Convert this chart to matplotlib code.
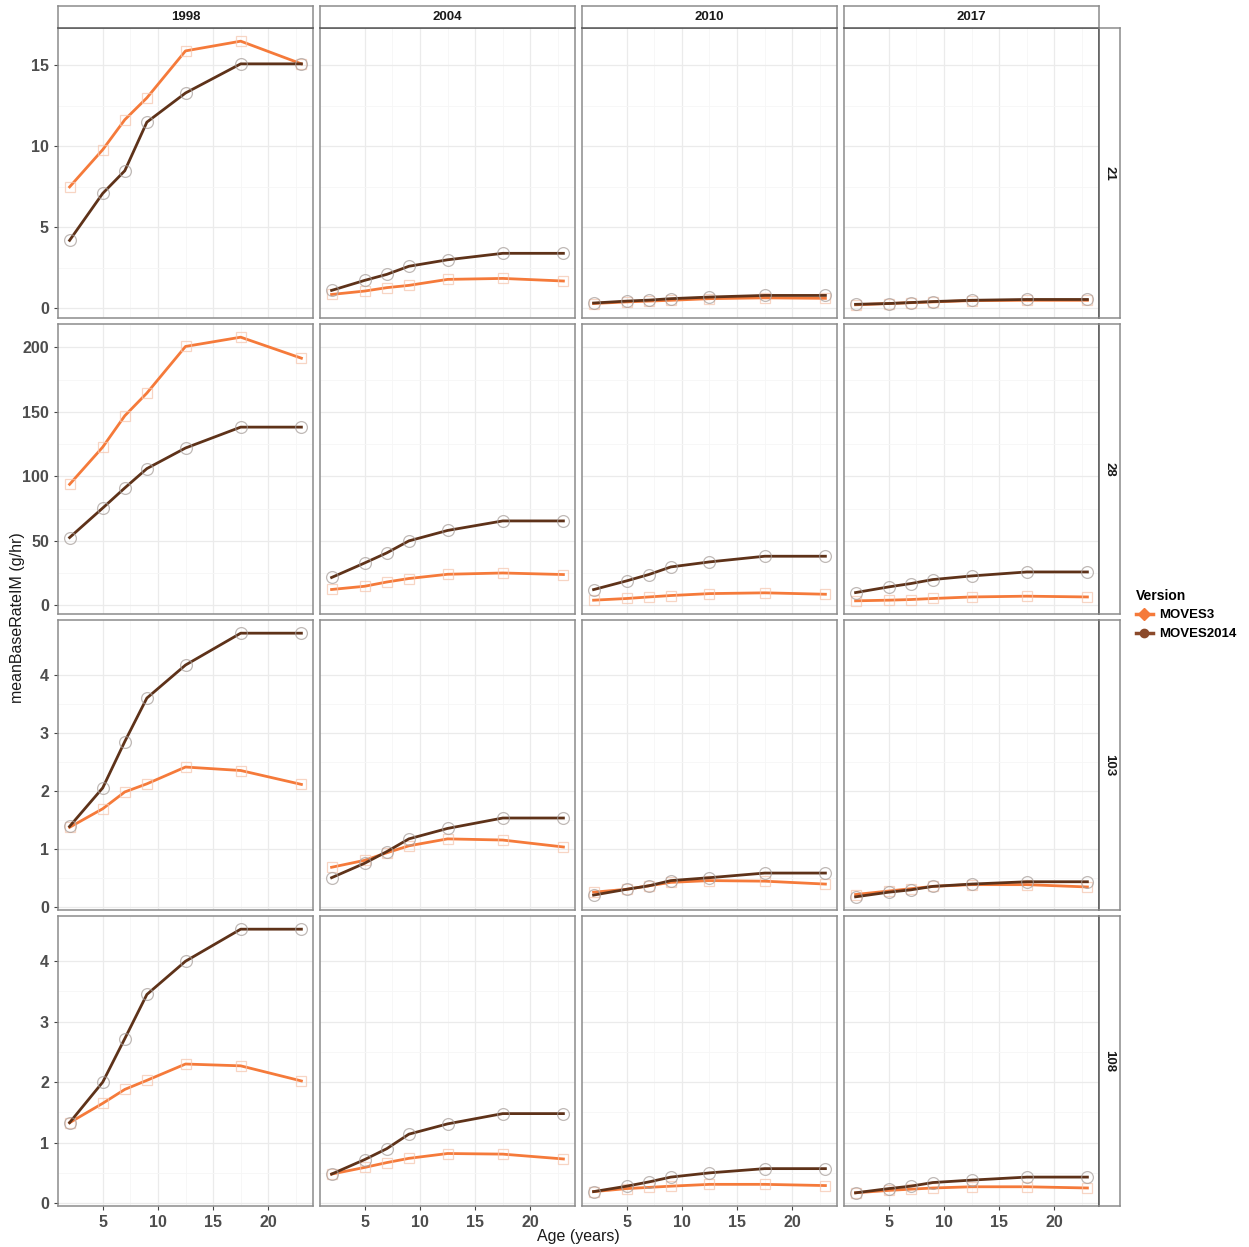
import matplotlib
matplotlib.use("Agg")
import matplotlib.pyplot as plt
from matplotlib.lines import Line2D

plt.rcParams['font.family'] = ['Liberation Sans', 'DejaVu Sans']

ages = [2, 5, 7, 9, 12.5, 17.5, 23]
years = ['1998', '2004', '2010', '2017']
pollutants = ['21', '28', '103', '108']
versions = ['MOVES3', 'MOVES2014']

p21_1998_m3 = [7.5, 9.8, 11.65, 13.0, 15.9, 16.5, 15.1]
p21_1998_m14 = [4.2, 7.1, 8.5, 11.5, 13.3, 15.1, 15.1]
p21_2004_m3 = [0.86, 1.07, 1.28, 1.42, 1.79, 1.85, 1.69]
p21_2004_m14 = [1.11, 1.73, 2.1, 2.6, 3.0, 3.4, 3.4]
p21_2010_m3 = [0.3, 0.4, 0.45, 0.5, 0.6, 0.65, 0.62]
p21_2010_m14 = [0.33, 0.45, 0.51, 0.6, 0.7, 0.8, 0.8]
p21_2017_m3 = [0.22, 0.3, 0.35, 0.4, 0.48, 0.5, 0.5]
p21_2017_m14 = [0.25, 0.3, 0.36, 0.42, 0.5, 0.55, 0.55]

p28_1998_m3 = [93.8, 122.7, 147.0, 164.6, 200.8, 208.0, 191.7]
p28_1998_m14 = [52.5, 75.4, 91.0, 106.0, 122.0, 138.2, 138.2]
p28_2004_m3 = [12.2, 14.7, 18.0, 20.7, 24.0, 25.0, 23.8]
p28_2004_m14 = [21.5, 32.8, 40.6, 49.9, 58.0, 65.4, 65.4]
p28_2010_m3 = [3.9, 5.2, 6.4, 7.5, 9.0, 9.6, 8.5]
p28_2010_m14 = [12.1, 18.9, 23.8, 29.7, 33.6, 38.0, 38.0]
p28_2017_m3 = [3.4, 3.9, 4.4, 5.2, 6.4, 7.0, 6.4]
p28_2017_m14 = [9.8, 14.2, 16.8, 19.9, 22.7, 25.8, 25.8]

p103_1998_m3 = [1.37, 1.69, 1.98, 2.12, 2.41, 2.35, 2.11]
p103_1998_m14 = [1.385, 2.05, 2.85, 3.6, 4.17, 4.72, 4.72]
p103_2004_m3 = [0.68, 0.8, 0.93, 1.05, 1.17, 1.15, 1.03]
p103_2004_m14 = [0.5, 0.75, 0.95, 1.17, 1.35, 1.53, 1.53]
p103_2010_m3 = [0.25, 0.3, 0.36, 0.42, 0.45, 0.44, 0.39]
p103_2010_m14 = [0.2, 0.3, 0.36, 0.45, 0.5, 0.58, 0.58]
p103_2017_m3 = [0.21, 0.27, 0.31, 0.35, 0.38, 0.38, 0.34]
p103_2017_m14 = [0.17, 0.25, 0.29, 0.35, 0.39, 0.43, 0.43]

p108_1998_m3 = [1.33, 1.65, 1.88, 2.03, 2.3, 2.27, 2.02]
p108_1998_m14 = [1.33, 2.0, 2.72, 3.45, 4.0, 4.53, 4.53]
p108_2004_m3 = [0.48, 0.59, 0.67, 0.74, 0.82, 0.81, 0.73]
p108_2004_m14 = [0.48, 0.72, 0.9, 1.14, 1.31, 1.48, 1.48]
p108_2010_m3 = [0.19, 0.24, 0.26, 0.28, 0.31, 0.31, 0.29]
p108_2010_m14 = [0.19, 0.28, 0.35, 0.43, 0.5, 0.57, 0.57]
p108_2017_m3 = [0.17, 0.21, 0.23, 0.25, 0.27, 0.27, 0.25]
p108_2017_m14 = [0.17, 0.24, 0.28, 0.34, 0.38, 0.43, 0.43]

data = {
    '21': {'1998': (p21_1998_m3, p21_1998_m14), '2004': (p21_2004_m3, p21_2004_m14),
           '2010': (p21_2010_m3, p21_2010_m14), '2017': (p21_2017_m3, p21_2017_m14)},
    '28': {'1998': (p28_1998_m3, p28_1998_m14), '2004': (p28_2004_m3, p28_2004_m14),
           '2010': (p28_2010_m3, p28_2010_m14), '2017': (p28_2017_m3, p28_2017_m14)},
    '103': {'1998': (p103_1998_m3, p103_1998_m14), '2004': (p103_2004_m3, p103_2004_m14),
            '2010': (p103_2010_m3, p103_2010_m14), '2017': (p103_2017_m3, p103_2017_m14)},
    '108': {'1998': (p108_1998_m3, p108_1998_m14), '2004': (p108_2004_m3, p108_2004_m14),
            '2010': (p108_2010_m3, p108_2010_m14), '2017': (p108_2017_m3, p108_2017_m14)},
}

row_ticks = {'21': [0, 5, 10, 15], '28': [0, 50, 100, 150, 200],
             '103': [0, 1, 2, 3, 4], '108': [0, 1, 2, 3, 4]}
x_ticks = [5, 10, 15, 20]

c_m3 = '#F57A3A'
c_m14 = '#5E3219'
c_pt3 = '#F5C4AC'
c_pt14 = '#A59C98'
border = '#8C8C8C'
grid_c = '#EBEBEB'
tick_txt = '#4D4D4D'

W, H = 1249, 1247
fig = plt.figure(figsize=(W / 100, H / 100), dpi=100)
fig.patch.set_facecolor('white')

def fx(px):
    return px / W

def fy(py):
    return 1 - py / H

col_left = 58
col_w = 255
col_step = 262
row_top = 28
row_h = 290
row_step = 296
strip_h = 22
strip_w = 21

xmin, xmax = min(ages), max(ages)
xr = xmax - xmin
xlim = (xmin - 0.05 * xr, xmax + 0.05 * xr)

for i, pol in enumerate(pollutants):
    allv = []
    for y in years:
        allv += data[pol][y][0] + data[pol][y][1]
    lo, hi = min(allv), max(allv)
    ylim = (lo - 0.05 * (hi - lo), hi + 0.05 * (hi - lo))
    top = row_top + i * row_step
    for j, yr in enumerate(years):
        left = col_left + j * col_step
        ax = fig.add_axes([fx(left), fy(top + row_h), col_w / W, row_h / H])
        ax.set_xlim(*xlim)
        ax.set_ylim(*ylim)
        ax.set_xticks(x_ticks)
        ax.set_yticks(row_ticks[pol])
        ax.set_xticks([7.5, 12.5, 17.5, 22.5], minor=True)
        yt = row_ticks[pol]
        ax.set_yticks([(yt[k] + yt[k + 1]) / 2 for k in range(len(yt) - 1)], minor=True)
        ax.grid(True, which='major', color=grid_c, lw=0.9)
        ax.grid(True, which='minor', color='#F6F6F6', lw=0.6)
        ax.set_axisbelow(True)
        for s in ax.spines.values():
            s.set_color(border)
            s.set_linewidth(1.1)
        ax.tick_params(which='minor', length=0)
        ax.tick_params(which='major', color='#444444', length=3, width=0.8,
                       labelcolor=tick_txt, labelsize=11.5)
        for lab in ax.get_xticklabels() + ax.get_yticklabels():
            lab.set_fontweight('bold')
        if j != 0:
            ax.tick_params(axis='y', left=False, labelleft=False)
        if i != len(pollutants) - 1:
            ax.tick_params(axis='x', bottom=False, labelbottom=False)
        m3, m14 = data[pol][yr]
        ax.plot(ages, m3, color=c_m3, lw=2.0, zorder=3)
        ax.plot(ages, m3, ls='none', marker='s', ms=7.5, mfc='none', mec=c_pt3,
                mew=0.9, alpha=0.7, zorder=4)
        ax.plot(ages, m14, color=c_m14, lw=2.0, zorder=5)
        ax.plot(ages, m14, ls='none', marker='o', ms=8.5, mfc='none', mec=c_pt14,
                mew=0.9, alpha=0.7, zorder=6)
        if i == 0:
            sax = fig.add_axes([fx(left), fy(top), col_w / W, strip_h / H])
            sax.set_xticks([]); sax.set_yticks([])
            sax.set_facecolor('white')
            for s in sax.spines.values():
                s.set_color(border); s.set_linewidth(1.1)
            sax.spines['bottom'].set_color('#555555')
            sax.text(0.5, 0.5, yr, ha='center', va='center', fontsize=9.5,
                     fontweight='bold', color='#1A1A1A', transform=sax.transAxes)
        if j == len(years) - 1:
            rax = fig.add_axes([fx(left + col_w), fy(top + row_h), strip_w / W, row_h / H])
            rax.set_xticks([]); rax.set_yticks([])
            rax.set_facecolor('white')
            for s in rax.spines.values():
                s.set_color(border); s.set_linewidth(1.1)
            rax.spines['left'].set_color('#555555')
            rax.text(0.5, 0.5, pol, ha='center', va='center', fontsize=9.5,
                     fontweight='bold', color='#1A1A1A', rotation=-90,
                     transform=rax.transAxes)

fig.text(fx(18), fy(618), 'meanBaseRateIM (g/hr)', rotation=90, ha='center',
         va='center', fontsize=11.5, color='#1A1A1A')
fig.text(fx(578), fy(1236), 'Age (years)', ha='center', va='center',
         fontsize=11.5, color='#1A1A1A')

handles = [Line2D([0], [0], color=c_m3, lw=2.5, marker='D', ms=6, mfc=c_m3, mec=c_m3),
           Line2D([0], [0], color='#8B4A2B', lw=2.5, marker='o', ms=6,
                  mfc='#8B4A2B', mec='#8B4A2B')]
leg = fig.legend(handles, versions, title='Version', loc='upper left',
                 bbox_to_anchor=(fx(1133), fy(586)), frameon=False,
                 prop={'size': 9.5, 'weight': 'bold'}, handlelength=1.3,
                 handletextpad=0.5, labelspacing=0.5, borderaxespad=0,
                 borderpad=0.2)
leg.get_title().set_fontweight('bold')
leg.get_title().set_fontsize(10)
leg._legend_box.align = 'left'

fig.savefig('out.png', dpi=100, facecolor='white')
